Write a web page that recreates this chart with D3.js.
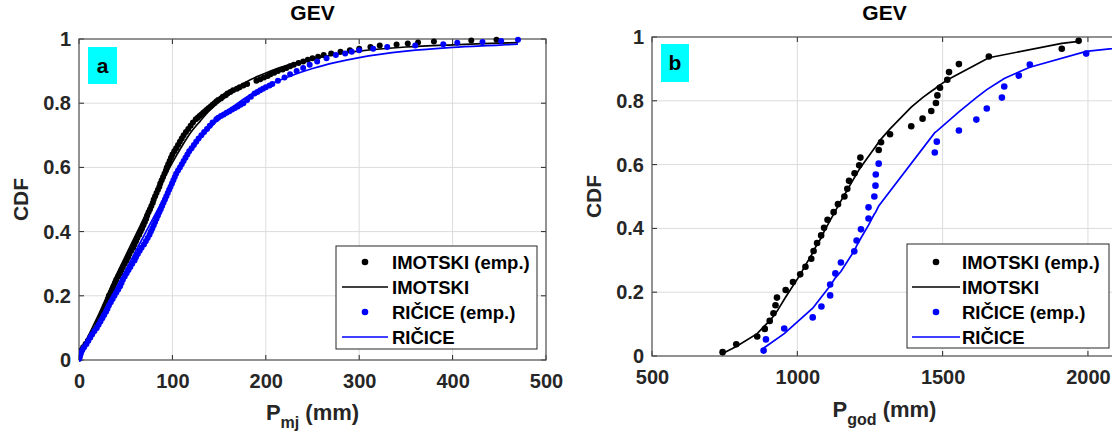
<!DOCTYPE html>
<html><head><meta charset="utf-8">
<script src="https://cdn.jsdelivr.net/npm/d3@7"></script>
<style>
body{margin:0;background:#fff}
svg{display:block}
text{font-family:"Liberation Sans",Arial,Helvetica,sans-serif;font-weight:bold}
</style>
</head><body>
<svg id="chart" width="1112" height="436"></svg>
<script>
// ---------- DATA ----------
const yTicks = [0, 0.2, 0.4, 0.6, 0.8, 1];
const xTicksA = [0, 100, 200, 300, 400, 500];
const xTicksB = [500, 1000, 1500, 2000];
const seriesNames = ["IMOTSKI (emp.)", "IMOTSKI", "RIČICE (emp.)", "RIČICE"];

// Panel a: monthly precipitation, empirical CDF [P (mm), CDF]
const imotskiMonthlyEmp = [[0,.004],[0.5,.01],[1,.02],[2.5,.03],[4.5,.04],[7,.05],[9.5,.06],[12,.07],[14,.08],[16,.09],[18.5,.10],[20,.11],[21.5,.12],[23,.13],[24.5,.14],[26,.15],[27.5,.16],[28.5,.17],[30,.18],[31,.19],[32,.20],[34,.21],[35.5,.22],[37,.23],[38.5,.24],[40,.25],[42,.26],[44,.27],[45.5,.28],[47,.29],[49,.30],[51,.31],[52.5,.32],[54,.33],[56,.34],[58,.35],[59.5,.36],[61,.37],[62.5,.38],[64.5,.39],[66,.40],[67.5,.41],[69,.42],[70.5,.43],[72,.44],[73,.45],[74.5,.46],[76,.47],[77.5,.48],[79,.49],[80,.50],[81.5,.51],[83,.52],[84.5,.53],[86,.54],[87,.55],[88.5,.56],[90,.57],[91.5,.58],[93,.59],[94,.60],[95.5,.61],[97,.62],[98.5,.63],[100,.64],[102,.65],[104,.66],[106,.67],[108,.68],[110,.69],[112,.70],[114.5,.71],[117,.72],[119.5,.73],[122,.74],[125,.75],[127,.755],[129,.76],[131,.765],[133,.77],[135,.775],[137,.78],[139,.785],[141,.79],[143,.795],[145,.80],[147,.805],[149,.81],[152,.815],[154,.82],[157,.825],[159,.83],[162,.835],[165,.84],[169,.845],[172,.85],[176,.855],[180,.86],[190,.87],[194,.875],[198,.88],[202,.885],[205,.89],[209,.895],[213,.90],[218,.905],[222,.91],[226,.915],[230,.92],[235,.925],[240,.93],[245,.935],[250,.94],[256,.945],[262,.95],[270,.955],[280,.96],[290,.965],[300,.97],[312,.975],[322,.98],[340,.983],[352,.986],[363,.989],[380,.992],[420,.995],[447,.998]];
const ricicMonthlyEmp = [[0,.004],[1,.01],[2,.02],[3.5,.03],[5.5,.04],[8,.05],[10,.06],[12,.07],[14,.08],[16.5,.09],[19,.10],[21,.11],[23,.12],[25,.13],[27,.14],[29,.15],[30.5,.16],[32,.17],[34,.18],[36,.19],[38,.20],[40,.21],[42,.22],[44,.23],[45.5,.24],[47,.25],[49,.26],[51,.27],[53,.28],[55,.29],[57,.30],[59.5,.31],[61,.32],[63,.33],[65,.34],[67,.35],[69.5,.36],[71.5,.37],[73.5,.38],[75.5,.39],[77,.40],[78.5,.41],[80,.42],[81.5,.43],[83,.44],[84.5,.45],[86,.46],[87.5,.47],[89,.48],[90.5,.49],[92,.50],[93.5,.51],[95,.52],[96.5,.53],[98,.54],[99.5,.55],[101,.56],[102.5,.57],[104,.58],[106,.59],[108,.60],[110,.61],[112,.62],[114,.63],[116,.64],[118,.65],[120.5,.66],[123,.67],[125.5,.68],[128,.69],[131,.70],[134,.71],[137,.72],[140,.73],[143,.74],[147,.75],[149,.755],[152,.76],[155,.765],[158,.77],[161,.775],[164,.78],[167,.785],[170,.79],[173,.795],[176,.80],[180,.81],[184,.82],[188,.83],[191,.835],[194,.84],[197,.845],[200,.85],[204,.855],[207,.86],[213,.87],[220,.88],[226,.89],[233,.90],[240,.91],[247,.92],[255,.93],[265,.94],[275,.95],[285,.955],[292,.96],[300,.965],[315,.97],[330,.975],[360,.98],[390,.984],[405,.988],[432,.991],[452,.994],[470,.998]];
// Panel a: fitted GEV CDF
const imotskiMonthlyFitP   = [0,2,5,10,15,20,30,40,50,60,70,80,90,100,110,120,130,140,150,160,170,180,190,200,225,250,275,300,350,400,450,470];
const imotskiMonthlyFitCdf = [0.02,0.03,0.045,0.075,0.105,0.135,0.20,0.265,0.325,0.385,0.445,0.505,0.56,0.615,0.665,0.71,0.745,0.778,0.805,0.83,0.85,0.868,0.882,0.894,0.92,0.938,0.952,0.962,0.975,0.982,0.987,0.989];
const ricicMonthlyFitP   = [0,5,10,20,30,40,50,60,70,80,90,100,110,120,130,140,150,160,170,180,190,200,225,250,275,300,350,400,450,470];
const ricicMonthlyFitCdf = [0.005,0.03,0.06,0.115,0.17,0.225,0.28,0.335,0.39,0.445,0.50,0.555,0.605,0.65,0.69,0.722,0.752,0.778,0.80,0.82,0.837,0.852,0.883,0.908,0.927,0.942,0.962,0.974,0.981,0.984];

// Panel b: annual precipitation
const imotskiAnnualP   = [743,790,862,888,905,918,925,930,960,985,1010,1028,1048,1056,1068,1082,1092,1104,1125,1140,1162,1172,1178,1197,1213,1217,1280,1288,1319,1392,1431,1461,1477,1482,1491,1516,1522,1556,1659,1910,1968];
const imotskiAnnualEmp = [0.012,0.037,0.061,0.085,0.110,0.134,0.159,0.183,0.207,0.232,0.256,0.280,0.305,0.329,0.354,0.378,0.402,0.427,0.451,0.476,0.500,0.524,0.549,0.573,0.598,0.622,0.646,0.670,0.695,0.720,0.744,0.768,0.793,0.817,0.841,0.866,0.890,0.915,0.939,0.963,0.988];
const imotskiAnnualFit = [0.008,0.03,0.07,0.095,0.11,0.125,0.135,0.14,0.185,0.22,0.255,0.285,0.315,0.33,0.35,0.37,0.39,0.41,0.445,0.47,0.505,0.52,0.53,0.56,0.585,0.59,0.67,0.68,0.712,0.78,0.81,0.83,0.84,0.845,0.85,0.865,0.868,0.885,0.935,0.98,0.986];
const ricicAnnualP   = [884,892,955,1053,1083,1113,1113,1131,1150,1196,1204,1219,1245,1245,1265,1269,1270,1280,1473,1480,1556,1616,1652,1704,1712,1762,1800,1994,2230];
const ricicAnnualEmp = [0.017,0.052,0.086,0.121,0.155,0.190,0.224,0.259,0.293,0.328,0.362,0.397,0.431,0.466,0.500,0.534,0.569,0.603,0.638,0.672,0.707,0.741,0.776,0.810,0.845,0.879,0.914,0.948,0.983];
const ricicAnnualFit = [0.025,0.03,0.07,0.15,0.185,0.22,0.22,0.245,0.265,0.33,0.345,0.37,0.41,0.41,0.445,0.45,0.452,0.47,0.70,0.705,0.765,0.81,0.835,0.865,0.87,0.89,0.905,0.955,0.978];

// ---------- DRAW ----------
const svg = d3.select("#chart");
const BLACK = "#000000", BLUE = "#0000ff", AX = "#262626";

function panel(cfg) {
  const x = d3.scaleLinear().domain(cfg.xDomain).range([cfg.left, cfg.right]);
  const y = d3.scaleLinear().domain([0, 1]).range([cfg.bottom, cfg.top]);
  const g = svg.append("g");
  const clipId = "clip" + cfg.tag;
  svg.append("defs").append("clipPath").attr("id", clipId)
    .append("rect").attr("x", cfg.left).attr("y", cfg.top - 6)
    .attr("width", cfg.right - cfg.left + 6).attr("height", cfg.bottom - cfg.top + 12);

  // grid
  g.selectAll(".gx").data(cfg.xTicks).enter().append("line")
    .attr("x1", d => x(d)).attr("x2", d => x(d)).attr("y1", cfg.top).attr("y2", cfg.bottom)
    .attr("stroke", "#dcdcdc").attr("stroke-width", 1);
  g.selectAll(".gy").data(yTicks).enter().append("line")
    .attr("x1", cfg.left).attr("x2", cfg.right).attr("y1", d => y(d)).attr("y2", d => y(d))
    .attr("stroke", "#dcdcdc").attr("stroke-width", 1);

  // axes labels via d3 axes
  const xa = g.append("g").attr("transform", `translate(0,${cfg.bottom})`)
    .call(d3.axisBottom(x).tickValues(cfg.xTicks).tickSize(0).tickPadding(cfg.xPad).tickFormat(d3.format("d")));
  const ya = g.append("g").attr("transform", `translate(${cfg.left},0)`)
    .call(d3.axisLeft(y).tickValues(yTicks).tickSize(0).tickPadding(8).tickFormat(d => d === 0 ? "0" : d === 1 ? "1" : d3.format(".1f")(d)));
  [xa, ya].forEach(a => {
    a.select(".domain").remove();
    a.selectAll("text").attr("font-size", 20).attr("fill", AX)
      .attr("font-family", '"Liberation Sans",Arial,sans-serif').attr("font-weight", "bold");
  });

  // inward ticks on all sides
  const tl = 5;
  cfg.xTicks.forEach(t => {
    g.append("line").attr("x1", x(t)).attr("x2", x(t)).attr("y1", cfg.bottom).attr("y2", cfg.bottom - tl).attr("stroke", AX);
    g.append("line").attr("x1", x(t)).attr("x2", x(t)).attr("y1", cfg.top).attr("y2", cfg.top + tl).attr("stroke", AX);
  });
  yTicks.forEach(t => {
    g.append("line").attr("x1", cfg.left).attr("x2", cfg.left + tl).attr("y1", y(t)).attr("y2", y(t)).attr("stroke", AX);
    g.append("line").attr("x1", cfg.right).attr("x2", cfg.right - tl).attr("y1", y(t)).attr("y2", y(t)).attr("stroke", AX);
  });

  // box
  g.append("rect").attr("x", cfg.left).attr("y", cfg.top)
    .attr("width", cfg.right - cfg.left).attr("height", cfg.bottom - cfg.top)
    .attr("fill", "none").attr("stroke", "#555").attr("stroke-width", 1.2);

  // data
  const dg = g.append("g").attr("clip-path", `url(#${clipId})`);
  const line = d3.line().x(d => x(d[0])).y(d => y(d[1]));
  const drawDots = (pts, col) => dg.append("g").selectAll("circle").data(pts).enter().append("circle")
    .attr("cx", d => x(d[0])).attr("cy", d => y(d[1])).attr("r", cfg.r).attr("fill", col);
  const drawLine = (pts, col) => dg.append("path").datum(pts).attr("d", line.curve(cfg.curve))
    .attr("fill", "none").attr("stroke", col).attr("stroke-width", 1.7);
  drawDots(cfg.empA, BLACK);
  drawLine(cfg.fitA, BLACK);
  drawDots(cfg.empB, BLUE);
  drawLine(cfg.fitB, BLUE);

  // title
  g.append("text").attr("x", (cfg.left + cfg.right) / 2).attr("y", 20).attr("text-anchor", "middle")
    .attr("font-size", 21).attr("fill", BLACK).text("GEV");
  // y label
  g.append("text").attr("transform", `translate(${cfg.ylabX},${(cfg.top + cfg.bottom) / 2}) rotate(-90)`)
    .attr("text-anchor", "middle").attr("font-size", 21).attr("fill", AX).text("CDF");
  // x label with subscript
  const xl = g.append("text").attr("x", (cfg.left + cfg.right) / 2).attr("y", cfg.xlabY)
    .attr("text-anchor", "middle").attr("font-size", 22).attr("fill", AX);
  xl.append("tspan").text("P");
  xl.append("tspan").attr("dy", 8).attr("font-size", 16).text(cfg.sub);
  xl.append("tspan").attr("dy", -8).text(" (mm)");

  // tag box
  g.append("rect").attr("x", cfg.tagBox[0]).attr("y", cfg.tagBox[1]).attr("width", cfg.tagBox[2]).attr("height", cfg.tagBox[3]).attr("fill", "#00ffff");
  g.append("text").attr("x", cfg.tagBox[0] + cfg.tagBox[2] / 2).attr("y", cfg.tagBox[1] + cfg.tagBox[3] / 2 + 7)
    .attr("text-anchor", "middle").attr("font-size", 21).attr("fill", BLACK).text(cfg.tag);

  // legend
  const L = cfg.legend;
  g.append("rect").attr("x", L.x0).attr("y", L.y0).attr("width", L.x1 - L.x0).attr("height", L.y1 - L.y0)
    .attr("fill", "#fff").attr("stroke", AX).attr("stroke-width", 1);
  const cols = [BLACK, BLACK, BLUE, BLUE];
  seriesNames.forEach((name, i) => {
    const ry = L.y0 + L.rowStart + i * L.rowStep;
    if (i % 2 === 0) {
      g.append("circle").attr("cx", (L.lx0 + L.lx1) / 2).attr("cy", ry).attr("r", 3.3).attr("fill", cols[i]);
    } else {
      g.append("line").attr("x1", L.lx0).attr("x2", L.lx1).attr("y1", ry).attr("y2", ry)
        .attr("stroke", cols[i]).attr("stroke-width", 1.7);
    }
    g.append("text").attr("x", L.tx).attr("y", ry).attr("dy", "0.36em").attr("font-size", 18.5)
      .attr("fill", BLACK).text(name);
  });
}

panel({
  tag: "a", left: 79, right: 546, top: 39, bottom: 360, xDomain: [0, 500], xTicks: xTicksA,
  xPad: 14, r: 3, curve: d3.curveMonotoneX,
  empA: imotskiMonthlyEmp, fitA: imotskiMonthlyFitP.map((p, i) => [p, imotskiMonthlyFitCdf[i]]),
  empB: ricicMonthlyEmp, fitB: ricicMonthlyFitP.map((p, i) => [p, ricicMonthlyFitCdf[i]]),
  ylabX: 28, xlabY: 420, sub: "mj", tagBox: [88, 47, 29, 37],
  legend: { x0: 336, x1: 537, y0: 246, y1: 349, rowStart: 16, rowStep: 25, lx0: 342, lx1: 388, tx: 392 }
});
panel({
  tag: "b", left: 652, right: 1117, top: 37, bottom: 356, xDomain: [500, 2100], xTicks: xTicksB,
  xPad: 14, r: 3.3, curve: d3.curveLinear,
  empA: imotskiAnnualP.map((p, i) => [p, imotskiAnnualEmp[i]]), fitA: imotskiAnnualP.map((p, i) => [p, imotskiAnnualFit[i]]),
  empB: ricicAnnualP.map((p, i) => [p, ricicAnnualEmp[i]]), fitB: ricicAnnualP.map((p, i) => [p, ricicAnnualFit[i]]),
  ylabX: 601, xlabY: 417, sub: "god", tagBox: [661, 44, 28, 38],
  legend: { x0: 907, x1: 1109, y0: 244, y1: 348, rowStart: 18, rowStep: 25, lx0: 912, lx1: 960, tx: 962 }
});
</script>
</body></html>
